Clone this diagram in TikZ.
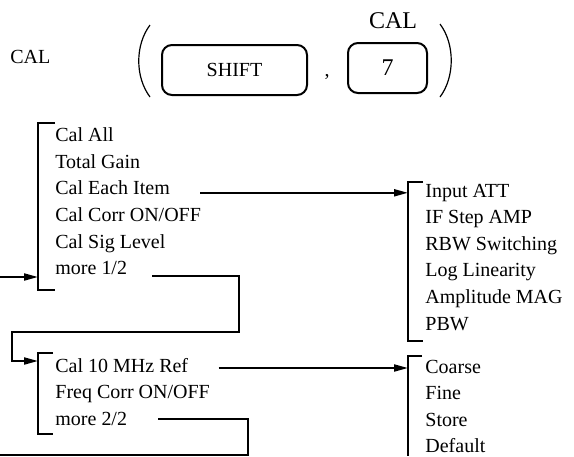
\documentclass[tikz,border=0pt]{standalone}
\usepackage{fontspec}
\setmainfont{Liberation Serif}
\usetikzlibrary{arrows.meta, positioning}

\begin{document}
\begin{tikzpicture}[
x=0.5pt, y=-0.5pt,
every node/.style={font=\fontsize{10}{12}\selectfont, inner sep=0pt},
bigtext/.style={font=\fontsize{12}{14}\selectfont},
item/.style={anchor=base west},
key/.style={draw, line width=1pt, rounded corners=5pt, minimum height=25pt},
bar/.style={line width=1pt},
link/.style={line width=1pt},
tip/.style={-{Triangle[length=7pt, width=3.5pt]}},
paren/.style={line width=0.6pt}
]

\useasboundingbox (0,0) rectangle (574,456);

% key sequence
\node[anchor=base west] (calname) at (10,63) {CAL};

\draw[paren] (150,25) .. controls (135,45) and (135,77) .. (150,97);
\draw[paren] (440,24) .. controls (455,44) and (455,77) .. (440,97);

\node[key, minimum width=72.5pt] (shiftkey) at (234.5,70) {SHIFT\hspace{11pt}};
\node[anchor=base] (comma) at (327,76) {,};
\node[key, bigtext, minimum width=39.5pt] (sevenkey) at (387.5,68) {7};
\node[bigtext, anchor=base] (calabove) at (393,28) {CAL};

% first menu page
\node[item] (calall) at (55,141.6) {Cal All};
\node[item] (totalgain) at (55,168.2) {Total Gain};
\node[item] (caleach) at (55,194.8) {Cal Each Item};
\node[item] (calcorr) at (55,221.4) {Cal Corr ON/OFF};
\node[item] (calsig) at (55,248) {Cal Sig Level};
\node[item] (more1) at (55,274.6) {more 1/2};
\draw[bar] (55,123) -- (38,123) -- (38,290) -- (55,290);

% cal each item submenu
\node[item] (inputatt) at (425,197) {Input ATT};
\node[item] (ifstep) at (425,223.6) {IF Step AMP};
\node[item] (rbwsw) at (425,250.2) {RBW Switching};
\node[item] (loglin) at (425,276.8) {Log Linearity};
\node[item] (ampmag) at (425,303.4) {Amplitude MAG};
\node[item] (pbw) at (425,330) {PBW};
\draw[bar] (423,182) -- (408,182) -- (408,341) -- (423,341);
\coordinate (attbar) at (408,182);

% second menu page
\node[item] (cal10) at (55,372) {Cal 10 MHz Ref};
\node[item] (freqcorr) at (55,398.6) {Freq Corr ON/OFF};
\node[item] (more2) at (55,425.2) {more 2/2};
\draw[bar] (53,353) -- (38,353) -- (38,434) -- (53,434);

% cal 10 MHz ref submenu
\node[item] (coarse) at (425,373) {Coarse};
\node[item] (fine) at (425,399.6) {Fine};
\node[item] (store) at (425,426.2) {Store};
\node[item] (default) at (425,452.8) {Default};
\draw[bar] (422,356) -- (408,356) -- (408,456);
\coordinate (coarsebar) at (408,356);

% connectors
\coordinate (eachout) at ([xshift=15pt, yshift=1pt]caleach.base east);
\draw[link, tip] (eachout) -- (eachout -| attbar);

\coordinate (more1out) at ([xshift=12.5pt, yshift=-0.5pt]more1.base east);
\coordinate (drop1) at (239,332);
\coordinate (back1) at (12,332);
\coordinate (cal10in) at (38,361);
\draw[link, tip] (more1out) -| (drop1) -- (back1) |- (cal10in);

\coordinate (cal10out) at ([xshift=15pt, yshift=2pt]cal10.base east);
\draw[link, tip] (cal10out) -- (cal10out -| coarsebar);

\coordinate (more2out) at ([xshift=15.5pt, yshift=3pt]more2.base east);
\coordinate (drop2) at (248,455);
\coordinate (back2) at (0,455);
\draw[link] (more2out) -| (drop2) -- (back2);

\coordinate (back0) at (0,277);
\coordinate (calallin) at (38,277);
\draw[link, tip] (back0) -- (calallin);

\end{tikzpicture}
\end{document}
